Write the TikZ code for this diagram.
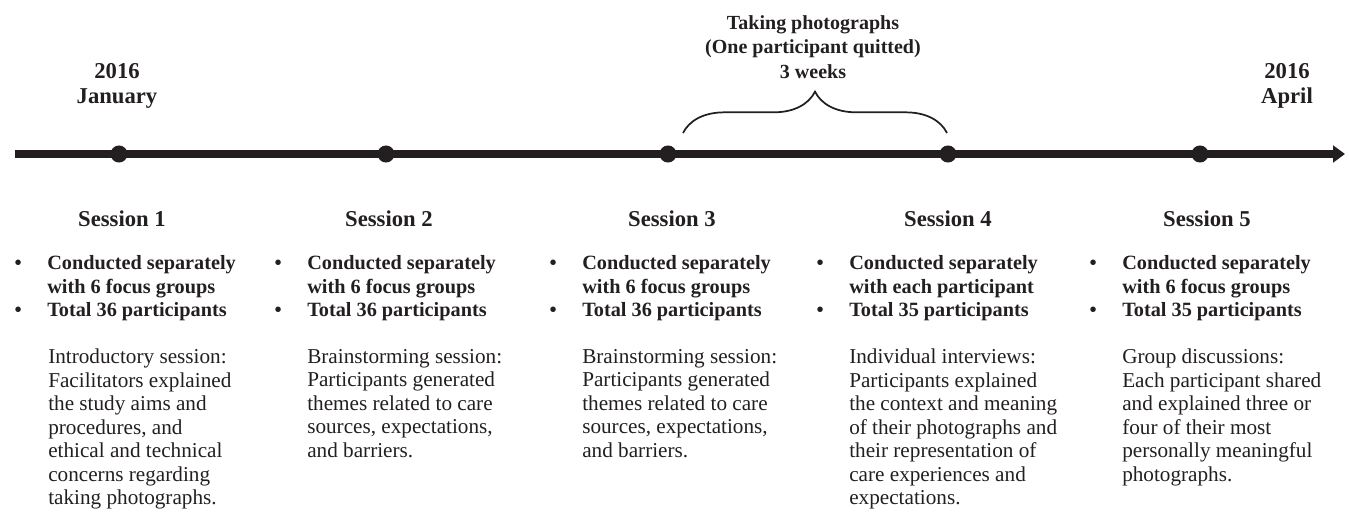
\documentclass[tikz,border=0pt]{standalone}
\usepackage{fontspec}
\setmainfont{Liberation Serif}
\usetikzlibrary{arrows.meta,decorations.pathreplacing}
\definecolor{ink}{HTML}{231F20}
\newcommand{\bul}{\llap{\makebox[24.5pt][l]{\textbullet}}}

\begin{document}
\begin{tikzpicture}[x=0.75pt,y=-0.75pt]
\tikzset{timeline/.style={ink, line width=5.5pt, -{Triangle[length=9pt,width=12.5pt]}},
  dot/.style={circle, fill=ink, inner sep=0pt, minimum size=12.8pt},
  datelabel/.style={ink, anchor=north, align=center, inner sep=0pt, font=\fontsize{17}{18.8}\selectfont\bfseries},
  sessionhead/.style={ink, anchor=base, inner sep=0pt, font=\fontsize{17}{18}\selectfont\bfseries},
  facts/.style={ink, anchor=north west, align=left, inner sep=0pt, font=\fontsize{15.2}{17.8}\selectfont\bfseries},
  summary/.style={ink, anchor=north west, align=left, inner sep=0pt, font=\fontsize{15.9}{17.6}\selectfont},
  curly/.style={ink, line width=1.3pt, decorate, decoration={brace, amplitude=31pt}}}
\useasboundingbox (0,0) rectangle (1349,513);

% time axis
\coordinate (start) at (15,154);
\coordinate (end) at (1345,154);
\draw[timeline] (start) -- (end);
\node[dot] (s1dot) at (119,154) {};
\node[dot] (s2dot) at (386,154) {};
\node[dot] (s3dot) at (668,154) {};
\node[dot] (s4dot) at (948,154) {};
\node[dot] (s5dot) at (1200,154) {};

\node[datelabel] (jan) at (117,63) {2016\\January};
\node[datelabel] (apr) at (1287,63) {2016\\April};

% photo period
\coordinate (pstart) at (683,133);
\coordinate (pend) at (947,133);
\draw[curly] (pstart) -- (pend);
\node[ink, anchor=north, align=center, inner sep=0pt, font=\fontsize{15}{18.4}\selectfont\bfseries] (photo) at (813,15)
  {Taking photographs\\(One participant quitted)\\3 weeks};

% sessions
\node[sessionhead] (s1head) at (122,227) {Session 1};
\node[facts] (s1facts) at (47,255) {\bul Conducted separately\\with 6 focus groups\\\bul Total 36 participants};
\node[summary] (s1text) at (48,349) {Introductory session:\\Facilitators explained\\the study aims and\\procedures, and\\ethical and technical\\concerns regarding\\taking photographs.};

\node[sessionhead] (s2head) at (389,227) {Session 2};
\node[facts] (s2facts) at (307,255) {\bul Conducted separately\\with 6 focus groups\\\bul Total 36 participants};
\node[summary] (s2text) at (307,349) {Brainstorming session:\\Participants generated\\themes related to care\\sources, expectations,\\and barriers.};

\node[sessionhead] (s3head) at (672,227) {Session 3};
\node[facts] (s3facts) at (582,255) {\bul Conducted separately\\with 6 focus groups\\\bul Total 36 participants};
\node[summary] (s3text) at (582,349) {Brainstorming session:\\Participants generated\\themes related to care\\sources, expectations,\\and barriers.};

\node[sessionhead] (s4head) at (948,227) {Session 4};
\node[facts] (s4facts) at (849,255) {\bul Conducted separately\\with each participant\\\bul Total 35 participants};
\node[summary] (s4text) at (849,349) {Individual interviews:\\Participants explained\\the context and meaning\\of their photographs and\\their representation of\\care experiences and\\expectations.};

\node[sessionhead] (s5head) at (1207,227) {Session 5};
\node[facts] (s5facts) at (1122,255) {\bul Conducted separately\\with 6 focus groups\\\bul Total 35 participants};
\node[summary] (s5text) at (1122,349) {Group discussions:\\Each participant shared\\and explained three or\\four of their most\\personally meaningful\\photographs.};
\end{tikzpicture}
\end{document}
